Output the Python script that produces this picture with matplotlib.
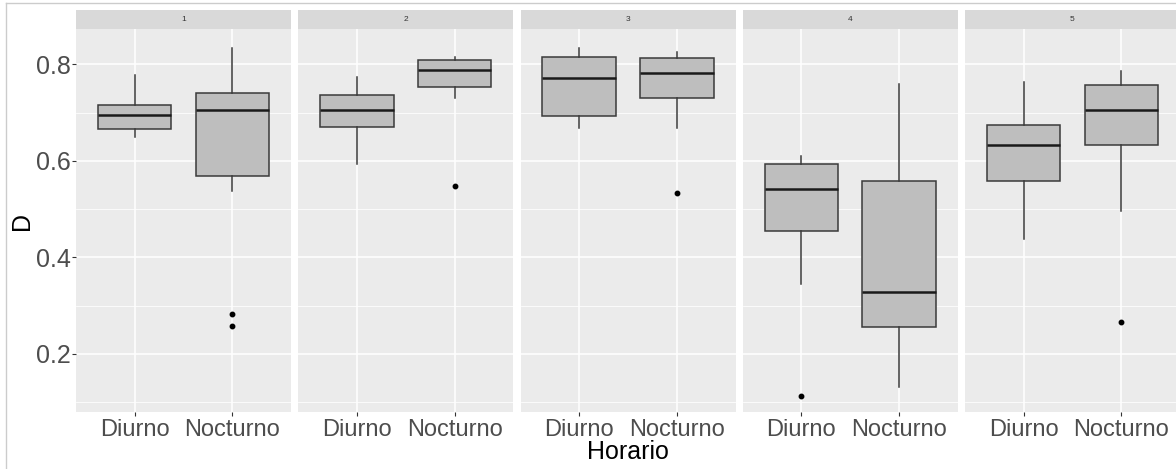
import matplotlib.pyplot as plt
from matplotlib.lines import Line2D

plt.rcParams['font.family'] = ['Liberation Sans', 'DejaVu Sans']

# Data (D by Horario, faceted 1..5)
facets = ['1', '2', '3', '4', '5']
groups = ['Diurno', 'Nocturno']

whisker_low = [[0.649, 0.538], [0.593, 0.731], [0.669, 0.669], [0.344, 0.131], [0.439, 0.496]]
q1 = [[0.665, 0.569], [0.670, 0.754], [0.692, 0.731], [0.454, 0.255], [0.558, 0.633]]
median = [[0.694, 0.706], [0.705, 0.788], [0.772, 0.781], [0.542, 0.328], [0.632, 0.706]]
q3 = [[0.715, 0.740], [0.736, 0.808], [0.815, 0.814], [0.594, 0.558], [0.674, 0.757]]
whisker_high = [[0.778, 0.833], [0.774, 0.815], [0.834, 0.825], [0.610, 0.760], [0.764, 0.786]]
outliers = [[[], [0.283, 0.257]], [[], [0.547]], [[], [0.534]], [[0.113], []], [[], [0.266]]]

y_major = [0.2, 0.4, 0.6, 0.8]
y_minor = [0.1, 0.3, 0.5, 0.7]

W, H = 1176, 469
fig = plt.figure(figsize=(W / 100, H / 100), dpi=100)
fig.patch.set_facecolor('white')

panel_w = 215
panel_top, panel_bot, strip_top = 29.3, 412.3, 10.0

for i, name in enumerate(facets):
    left = 76 + i * 222.25
    ax = fig.add_axes([left / W, 1 - panel_bot / H, panel_w / W, (panel_bot - panel_top) / H])
    ax.set_facecolor('#EBEBEB')

    stats = []
    for j, g in enumerate(groups):
        stats.append(dict(whislo=whisker_low[i][j], q1=q1[i][j], med=median[i][j],
                          q3=q3[i][j], whishi=whisker_high[i][j], fliers=outliers[i][j], label=g))
    ax.bxp(stats, positions=[1, 2], widths=0.75, patch_artist=True, showcaps=False,
           boxprops=dict(facecolor='#BEBEBE', edgecolor='#3A3A3A', linewidth=1.1),
           medianprops=dict(color='#1A1A1A', linewidth=1.8),
           whiskerprops=dict(color='#3A3A3A', linewidth=1.1),
           flierprops=dict(marker='o', markerfacecolor='black', markeredgecolor='black',
                           markersize=3.2, linestyle='none'))

    ax.set_xlim(0.4, 2.6)
    ax.set_ylim(0.0792, 0.8725)
    ax.set_yticks(y_major)
    ax.set_yticks(y_minor, minor=True)
    ax.set_xticks([1, 2])
    ax.set_xticklabels(groups)
    ax.set_axisbelow(True)
    ax.grid(True, which='major', color='white', linewidth=1.1)
    ax.grid(True, which='minor', axis='y', color='white', linewidth=0.55)
    for s in ax.spines.values():
        s.set_visible(False)

    ax.tick_params(axis='x', length=3, width=0.8, color='#333333', pad=1.5,
                   labelsize=17, labelcolor='#4D4D4D')
    ax.tick_params(axis='y', which='minor', length=0)
    if i == 0:
        ax.tick_params(axis='y', length=3, width=0.8, color='#333333', pad=1,
                       labelsize=18, labelcolor='#4D4D4D')
    else:
        ax.tick_params(axis='y', length=0, labelleft=False)

    # facet strip
    sax = fig.add_axes([left / W, 1 - panel_top / H, panel_w / W, (panel_top - strip_top) / H])
    sax.set_facecolor('#D9D9D9')
    sax.set_xticks([])
    sax.set_yticks([])
    for s in sax.spines.values():
        s.set_visible(False)
    sax.text(0.5, 0.5, name, ha='center', va='center', fontsize=6, color='#333333',
             transform=sax.transAxes)

fig.text(22 / W, 1 - 221 / H, 'D', rotation=90, ha='center', va='center', fontsize=18, color='black')
fig.text(628 / W, 1 - 452 / H, 'Horario', ha='center', va='center', fontsize=18, color='black')

# light frame of the original screenshot
fig.add_artist(Line2D([5.5 / W, 1], [1 - 3.5 / H, 1 - 3.5 / H], color='#CCCCCC', linewidth=1))
fig.add_artist(Line2D([5.5 / W, 5.5 / W], [0, 1 - 3.5 / H], color='#CCCCCC', linewidth=1))

fig.savefig('out.png', dpi=100)
